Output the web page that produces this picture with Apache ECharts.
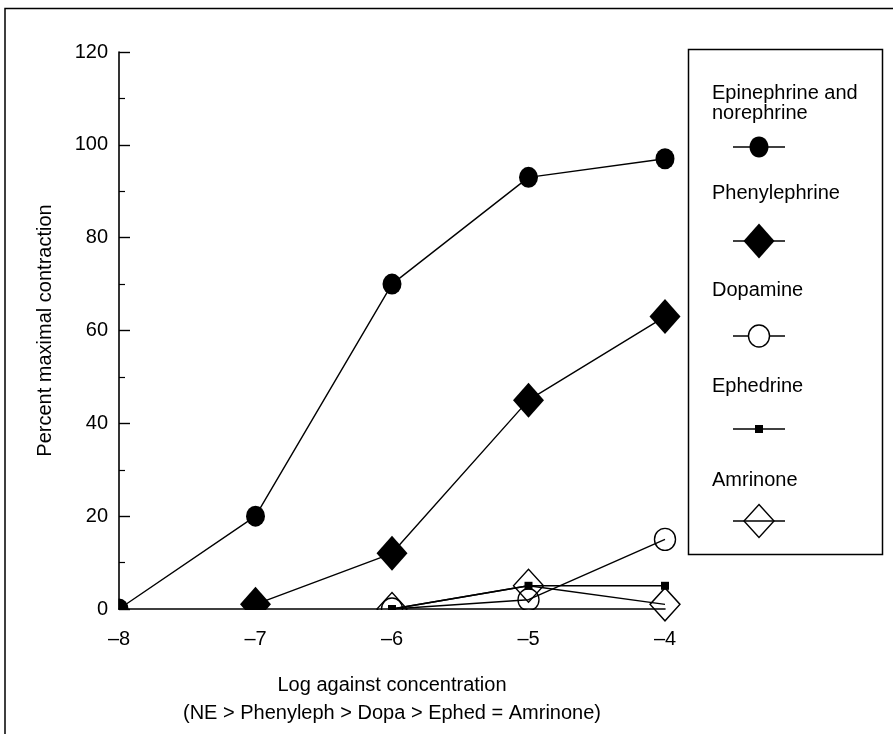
<!DOCTYPE html>
<html>
<head>
<meta charset="utf-8">
<script src="https://cdn.jsdelivr.net/npm/echarts@6/dist/echarts.min.js"></script>
<style>
  html, body { margin: 0; padding: 0; background: #fff; }
  #chart { width: 893px; height: 734px; }
</style>
</head>
<body>
<div id="chart"></div>
<script>
// log concentration on x, percent maximal contraction on y
const concentrations = [-8, -7, -6, -5, -4];
const seriesNames = ['Epinephrine and norephrine', 'Phenylephrine', 'Dopamine', 'Ephedrine', 'Amrinone'];
const legendLabels = ['Epinephrine and\nnorephrine', 'Phenylephrine', 'Dopamine', 'Ephedrine', 'Amrinone'];
const epinephrine = [0, 20, 70, 93, 97];
const phenylephrine = [null, 1, 12, 45, 63];
const dopamine = [null, null, 0, 2, 15];
const ephedrine = [null, null, 0, 5, 5];
const amrinone = [null, null, 0, 5, 1];

const FONT = '"Liberation Sans", Arial, sans-serif';
const FS = 20;

function pairs(values) {
    return concentrations
        .map((c, i) => [c, values[i]])
        .filter(p => p[1] !== null);
}

const filled = {color: '#000'};
const hollow = {color: 'rgba(255,255,255,0)', borderColor: '#000', borderWidth: 1.4};

const seriesStyles = [
    {symbol: 'circle', size: [19, 21], item: filled},
    {symbol: 'diamond', size: [31, 35], item: filled},
    {symbol: 'circle', size: [21, 22], item: hollow},
    {symbol: 'rect', size: 8, item: filled},
    {symbol: 'diamond', size: [30, 33], item: hollow}
];
const seriesValues = [epinephrine, phenylephrine, dopamine, ephedrine, amrinone];

// hand-drawn legend: label above a short line with its marker
const legendX = 712, iconX0 = 733, iconX1 = 785, iconCx = 759;
const textTops = [83, 183, 280, 376, 470];
const iconYs = [147, 241, 336, 429, 521];

function legendIcon(i, y) {
    const st = seriesStyles[i];
    const sz = Array.isArray(st.size) ? st.size : [st.size, st.size];
    const style = st.item === filled
        ? {fill: '#000'}
        : {fill: '#fff', stroke: '#000', lineWidth: 1.4};
    let shape;
    if (st.symbol === 'circle') {
        shape = {type: 'ellipse', shape: {cx: iconCx, cy: y, rx: sz[0] / 2, ry: sz[1] / 2}, style};
    } else if (st.symbol === 'diamond') {
        shape = {type: 'polygon', shape: {points: [
            [iconCx, y - sz[1] / 2], [iconCx + sz[0] / 2, y], [iconCx, y + sz[1] / 2], [iconCx - sz[0] / 2, y]
        ]}, style};
    } else {
        shape = {type: 'rect', shape: {x: iconCx - sz[0] / 2, y: y - sz[1] / 2, width: sz[0], height: sz[1]}, style};
    }
    const line = {type: 'line', shape: {x1: iconX0, y1: y, x2: iconX1, y2: y},
        style: {stroke: '#000', lineWidth: 1.4}};
    // hollow amrinone diamond shows the line through it
    if (st.item === hollow && st.symbol === 'diamond') {
        return [Object.assign(shape, {z: 1}), Object.assign(line, {z: 2})];
    }
    return [Object.assign(line, {z: 1}), Object.assign(shape, {z: 2})];
}

const legendChildren = [
    {type: 'rect', shape: {x: 688.5, y: 49.5, width: 194, height: 505},
        style: {fill: '#fff', stroke: '#000', lineWidth: 1.5}, z: 0}
];
legendLabels.forEach((label, i) => {
    legendChildren.push({
        type: 'text', x: legendX, y: textTops[i], z: 2,
        style: {text: label, font: FS + 'px ' + FONT, fill: '#000', lineHeight: 20}
    });
    legendChildren.push(...legendIcon(i, iconYs[i]));
});

const option = {
    animation: false,
    backgroundColor: '#fff',
    grid: {left: 119, right: 228, top: 52, bottom: 125},
    xAxis: {
        type: 'value', min: -8, max: -4, interval: 1, z: 10,
        name: 'Log against concentration\n(NE > Phenyleph > Dopa > Ephed = Amrinone)',
        nameLocation: 'middle', nameGap: 62,
        nameTextStyle: {fontFamily: FONT, fontSize: FS, color: '#000', lineHeight: 28},
        axisLine: {onZero: false, lineStyle: {color: '#000', width: 1.6}},
        axisTick: {show: false},
        splitLine: {show: false},
        axisLabel: {
            margin: 20, fontFamily: FONT, fontSize: FS, color: '#000',
            formatter: v => String(v).replace('-', '\u2013')
        }
    },
    yAxis: {
        type: 'value', min: 0, max: 120, interval: 20, z: 10,
        name: 'Percent maximal contraction',
        nameLocation: 'middle', nameGap: 64,
        nameTextStyle: {fontFamily: FONT, fontSize: FS, color: '#000'},
        axisLine: {show: true, lineStyle: {color: '#000', width: 1.6}},
        axisTick: {show: true, inside: true, length: 11, lineStyle: {color: '#000', width: 1.4}},
        minorTick: {show: true, splitNumber: 2, length: 6, lineStyle: {color: '#000', width: 1.2}},
        splitLine: {show: false},
        axisLabel: {margin: 11, fontFamily: FONT, fontSize: FS, color: '#000'}
    },
    graphic: [
        // outer frame (left and top edges)
        {type: 'polyline', shape: {points: [[5, 734], [5, 8.5], [893, 8.5]]},
            style: {stroke: '#000', fill: null, lineWidth: 1.5}, z: 20},
        // markers are cut off at the axes in the original
        {type: 'rect', shape: {x: 100, y: 610, width: 540, height: 18}, style: {fill: '#fff'}, z: 5},
        {type: 'rect', shape: {x: 95, y: 580, width: 23.5, height: 40}, style: {fill: '#fff'}, z: 5},
        {type: 'group', children: legendChildren, z: 30}
    ],
    series: seriesNames.map((name, i) => ({
        name: name,
        type: 'line',
        data: pairs(seriesValues[i]),
        symbol: seriesStyles[i].symbol,
        symbolSize: seriesStyles[i].size,
        showAllSymbol: true,
        clip: false,
        itemStyle: seriesStyles[i].item,
        lineStyle: {color: '#000', width: 1.4},
        z: 2
    }))
};

const chart = echarts.init(document.getElementById('chart'));
chart.setOption(option);
</script>
</body>
</html>
